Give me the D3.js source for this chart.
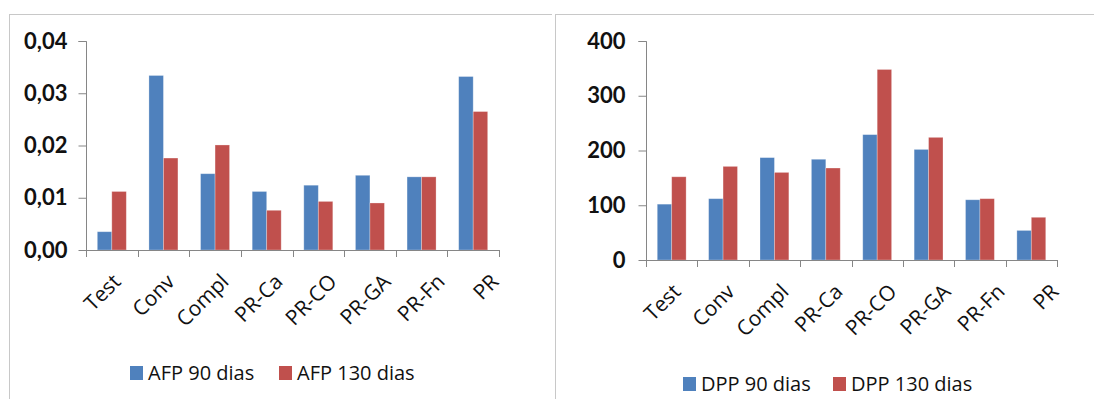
<!DOCTYPE html>
<html><head><meta charset="utf-8">
<script src="https://cdn.jsdelivr.net/npm/d3@7/dist/d3.min.js"></script>
<style>
html,body{margin:0;padding:0;background:#fff;}
svg{display:block;}
</style></head>
<body>
<svg id="c" width="1094" height="399"></svg>
<script>
const categories = ["Test","Conv","Compl","PR-Ca","PR-CO","PR-GA","PR-Fn","PR"];
const afp90  = [0.0035,0.0334,0.0146,0.0112,0.0124,0.0143,0.0140,0.0332];
const afp130 = [0.0112,0.0176,0.0201,0.0076,0.0093,0.0090,0.0140,0.0265];
const dpp90  = [102,112,187,184,229,202,110,54];
const dpp130 = [152,171,160,168,348,224,112,78];
const afpTicks = [0,0.01,0.02,0.03,0.04];
const dppTicks = [0,100,200,300,400];
const afpSeries = ["AFP 90 dias","AFP 130 dias"];
const dppSeries = ["DPP 90 dias","DPP 130 dias"];
const colors = ["#4F81BD","#C0504D"];

const svg = d3.select("#c");
const axisColor = "#868686";
const borderColor = "#c8c8c8";

// frames
svg.append("line").attr("x1",9).attr("x2",552).attr("y1",14.5).attr("y2",14.5).attr("stroke",borderColor);
svg.append("line").attr("x1",9.5).attr("x2",9.5).attr("y1",14).attr("y2",399).attr("stroke",borderColor);
svg.append("line").attr("x1",555).attr("x2",1094).attr("y1",14.5).attr("y2",14.5).attr("stroke",borderColor);
svg.append("line").attr("x1",555.5).attr("x2",555.5).attr("y1",14).attr("y2",399).attr("stroke",borderColor);

function drawChart(o){
  const g = svg.append("g");
  const y = d3.scaleLinear().domain([0,o.max]).range([o.yB,o.yT]);
  const x = d3.scaleBand().domain(categories).range([o.xL,o.xR]).padding(0);
  const xs = d3.scaleBand().domain(o.series).range([0,x.bandwidth()]).paddingInner(0).paddingOuter(0.78);
  const xl = d3.scalePoint().domain(categories).range([o.xL+36, o.xL+36+54*(categories.length-1)]);

  // bars
  o.values.forEach((vals,si)=>{
    g.selectAll(null).data(categories).enter().append("rect")
      .attr("x",(c)=>x(c)+xs(o.series[si]))
      .attr("width",xs.bandwidth())
      .attr("y",(c,i)=>y(vals[i]))
      .attr("height",(c,i)=>o.yB-y(vals[i]))
      .attr("fill",colors[si])
      .attr("stroke","rgba(255,255,255,0.35)")
      .attr("stroke-width",0.8);
  });

  // y axis
  const ya = d3.axisLeft(y).tickValues(o.ticks).tickSize(8).tickPadding(o.pad).tickFormat(o.fmt);
  const yg = g.append("g").attr("transform",`translate(${o.xL+0.5},0)`).call(ya);
  yg.select(".domain").attr("stroke",axisColor).attr("d",`M-8,${o.yT+0.5}H0V${o.yB+0.5}`);
  yg.selectAll(".tick line").attr("stroke",axisColor);
  yg.selectAll(".tick text").attr("fill","#111").style("font-family","Lato, 'Open Sans', sans-serif")
    .style("font-weight","bold").style("font-size","22px");

  // x axis
  const bounds = categories.map(c=>x(c)).concat([o.xR]);
  g.append("line").attr("x1",o.xL).attr("x2",o.xR).attr("y1",o.yB+0.5).attr("y2",o.yB+0.5).attr("stroke",axisColor);
  g.selectAll(null).data(bounds).enter().append("line")
    .attr("x1",d=>Math.round(d)+0.5).attr("x2",d=>Math.round(d)+0.5)
    .attr("y1",o.yB).attr("y2",o.yB+7).attr("stroke",axisColor);
  g.selectAll(null).data(categories).enter().append("text")
    .attr("transform",c=>`translate(${xl(c)},${o.yB+33}) rotate(-45)`)
    .attr("text-anchor","end")
    .attr("fill","#111")
    .style("font-family","'Open Sans', sans-serif").style("font-size","21px")
    .text(c=>c);

  // legend
  o.series.forEach((s,si)=>{
    g.append("rect").attr("x",o.legX[si]).attr("y",o.legY-7).attr("width",13).attr("height",14).attr("fill",colors[si]);
    g.append("text").attr("x",o.legX[si]+18).attr("y",o.legY).attr("dy","0.36em")
      .attr("fill","#111").style("font-family","'Open Sans', sans-serif").style("font-size","20px").text(s);
  });
}

const commaFmt = d=>d3.format(".2f")(d).replace(".",",");

drawChart({xL:86,xR:499,yT:41,yB:250,max:0.04,ticks:afpTicks,fmt:commaFmt,pad:11,
  series:afpSeries,values:[afp90,afp130],legX:[130,279],legY:373});
drawChart({xL:646,xR:1057,yT:41,yB:260,max:400,ticks:dppTicks,fmt:d3.format("d"),pad:13,
  series:dppSeries,values:[dpp90,dpp130],legX:[683,833],legY:384});
</script>
</body></html>
